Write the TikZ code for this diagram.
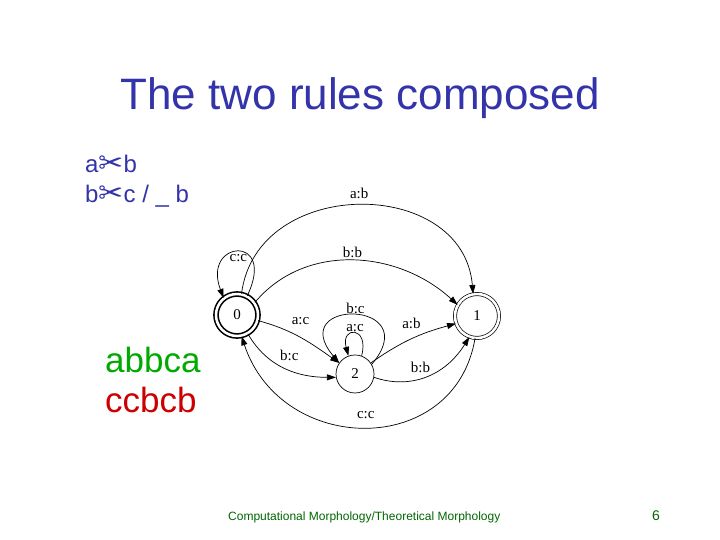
\documentclass[tikz,border=0pt]{standalone}
\usepackage{fontspec}
\setmainfont{Liberation Sans}
\newfontfamily\fstlabel{Liberation Serif}
\newfontfamily\fstsym{DejaVu Sans}
\usetikzlibrary{arrows.meta}
\definecolor{titleblue}{RGB}{51,51,170}
\definecolor{wordgreen}{RGB}{0,170,0}
\definecolor{wordred}{RGB}{204,0,0}
\definecolor{footgreen}{RGB}{0,102,0}
\newcommand{\cutmark}{\smash{\raisebox{-1pt}{\fstsym\fontsize{30}{30}\selectfont ✂}}}

\begin{document}
\begin{tikzpicture}[x=1pt,y=1pt,
  state/.style={draw,circle,minimum size=38pt,inner sep=0pt,line width=0.7pt,
    font=\fstlabel\fontsize{15}{15}\selectfont},
  accept/.style={state,double,double distance=2.5pt,minimum size=44pt},
  trans/.style={-{Triangle[length=9pt,width=6pt]},line width=0.7pt},
  lbl/.style={font=\fstlabel\fontsize{15}{15}\selectfont,inner sep=1pt},
  ruletext/.style={text=titleblue,font=\fontsize{24}{24}\selectfont,inner sep=0pt},
  wordtext/.style={font=\fontsize{35}{35}\selectfont,inner sep=0pt}
]
\useasboundingbox (0,0) rectangle (720,540);

% slide texts
\node[anchor=base,text=titleblue,font=\fontsize{44}{44}\selectfont,inner sep=0pt]
  (title) at (360,430) {The two rules composed};
\node[ruletext,anchor=base west] (rule1) at (85,367) {a\cutmark b};
\node[ruletext,anchor=base west] (rule2) at (85,337) {b\cutmark c / \_ b};
\node[wordtext,text=wordgreen,anchor=base west] (input) at (105,167) {abbca};
\node[wordtext,text=wordred,anchor=base west] (output) at (105,127) {ccbcb};
\node[anchor=base west,text=footgreen,font=\fontsize{12}{12}\selectfont,inner sep=0pt]
  (foot) at (228,19) {Computational Morphology/Theoretical Morphology};
\node[anchor=base,text=footgreen,font=\fontsize{14}{14}\selectfont,inner sep=0pt]
  (page) at (656,19) {6};

% states
\node[accept,line width=1.6pt,minimum size=42pt] (n0) at (237,225) {0};
\node[accept] (n1) at (477,224) {1};
\node[state] (n2) at (355,166) {2};

% transitions
\draw[trans] (n0.78) .. controls +(15,118) and +(-10,118) .. (n1.100)
  node[lbl,pos=0.5,above=5pt] {a:b};
\draw[trans] (n0.35) .. controls +(50,60) and +(-60,55) .. (n1.150)
  node[lbl,pos=0.5,above=1pt] {b:b};
\draw[trans] (n0.62) .. controls +(30,62) and +(-22,58) .. (n0.128)
  node[lbl,pos=0.5,below=1pt] {c:c};
\draw[trans] (n0.-15) to[out=-15,in=145]
  node[lbl,midway,above=11pt] {a:c} (n2.145);
\draw[trans] (n0.-60) to[out=-60,in=180]
  node[lbl,pos=0.55,above=8pt] {b:c} (n2.190);
\draw[trans] (n1.-95) .. controls +(-20,-120) and +(40,-120) .. (n0.-78)
  node[lbl,pos=0.5,above=7pt] {c:c};
\draw[trans] (n2.70) .. controls +(8,30) and +(-8,30) .. (n2.110)
  node[lbl,pos=0.5,above=0pt] {a:c};
\draw[trans] (n2.30) .. controls +(55,65) and +(-55,65) .. (n2.145)
  node[lbl,pos=0.5,above=0pt] {b:c};
\draw[trans] (n2.35) to[out=35,in=195]
  node[lbl,midway,above=9pt] {a:b} (n1.200);
\draw[trans] (n2.-10) .. controls +(35,-12) and +(-25,-40) .. (n1.-110)
  node[lbl,pos=0.45,above=4pt] {b:b};
\end{tikzpicture}
\end{document}
